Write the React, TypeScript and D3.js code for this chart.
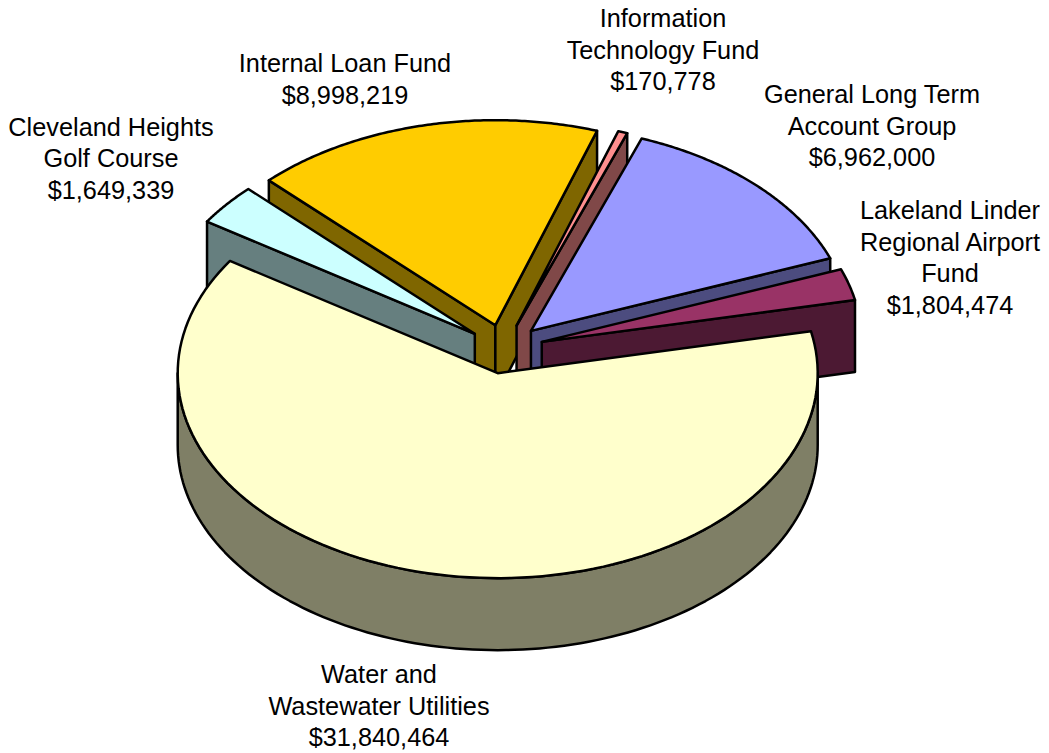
import React from 'react';
import * as d3 from 'd3';

const WIDTH = 1049;
const HEIGHT = 753;

const funds = [
  'Water and Wastewater Utilities',
  'Cleveland Heights Golf Course',
  'Internal Loan Fund',
  'Information Technology Fund',
  'General Long Term Account Group',
  'Lakeland Linder Regional Airport Fund',
];
const amounts = [31840464, 1649339, 8998219, 170778, 6962000, 1804474];
const topColors = ['#FFFFCC', '#CCFFFF', '#FFCC00', '#FF8F8F', '#9999FF', '#993366'];
const sideColors = ['#7F7F66', '#667F7F', '#7F6600', '#804848', '#4C4C7F', '#4C1933'];

// label text broken the way the chart breaks it
const labelLines = [
  ['Water and', 'Wastewater Utilities', '$31,840,464'],
  ['Cleveland Heights', 'Golf Course', '$1,649,339'],
  ['Internal Loan Fund', '$8,998,219'],
  ['Information', 'Technology Fund', '$170,778'],
  ['General Long Term', 'Account Group', '$6,962,000'],
  ['Lakeland Linder', 'Regional Airport', 'Fund', '$1,804,474'],
];
const labelX = [379, 111, 345, 663, 872, 950];
const labelY = [683, 135.5, 72, 27, 103, 219];

// back to front
const drawOrder = [2, 3, 4, 5, 1, 0];

// the original's perspective bends the slice edges a little, in degrees, per slice start
const startNudge = [-1.3, 0.8, 1, 1.6, 2.1, 2.4];
const endNudge = [0.8, 1, 1.6, 2.1, 2.4, -1.3];

const CX = 505;
const CY = 349;
const RX = 320;
const RY = 205;
const DEPTH = 72;
const EXPLODE = 0.12;
const START = (79.5 * Math.PI) / 180;
const DEG = Math.PI / 180;

const x = d3.scaleLinear().domain([-1, 1]).range([CX - RX, CX + RX]);
const y = d3.scaleLinear().domain([-1, 1]).range([CY + RY, CY - RY]);

const arcs = d3
  .pie<number>()
  .sort(null)
  .startAngle(START)
  .endAngle(START + 2 * Math.PI)(amounts);

type Pt = [number, number];
const line = d3.line<Pt>().x((d) => d[0]).y((d) => d[1]);

export default function App() {
  const slice = (i: number) => {
    const mid = (arcs[i].startAngle + arcs[i].endAngle) / 2;
    const a0 = arcs[i].startAngle + startNudge[i] * DEG;
    const a1 = arcs[i].endAngle + endNudge[i] * DEG;
    const ox = EXPLODE * Math.sin(mid);
    const oy = EXPLODE * Math.cos(mid);
    const pt = (r: number, a: number, drop = 0): Pt => [
      x(ox + r * Math.sin(a)),
      y(oy + r * Math.cos(a)) + drop,
    ];
    const rim = (from: number, to: number, drop = 0) =>
      d3.range(0, 121).map((k) => pt(1, from + ((to - from) * k) / 120, drop));

    const walls: string[] = [];
    // cut faces, only when they turn towards the viewer
    const cut = (a: number) =>
      line([pt(0, a), pt(1, a), pt(1, a, DEPTH), pt(0, a, DEPTH)]) + 'Z';
    if (Math.sin(a0) < 0) walls.push(cut(a0));
    if (Math.sin(a1) > 0) walls.push(cut(a1));

    // outer wall, front half of the ellipse only
    const from = Math.max(a0, Math.PI / 2);
    const to = Math.min(a1, (3 * Math.PI) / 2);
    if (to > from) {
      walls.push(line([...rim(from, to), ...rim(to, from, DEPTH)]) + 'Z');
    }
    const top = line([pt(0, a0), ...rim(a0, a1)]) + 'Z';
    return { walls, top };
  };

  return (
    <svg
      width={WIDTH}
      height={HEIGHT}
      style={{ position: 'absolute', left: 0, top: 0, background: '#fff' }}
    >
      {drawOrder.map((i) => {
        const { walls, top } = slice(i);
        return (
          <g key={funds[i]} stroke="#000" strokeWidth={2.5} strokeLinejoin="round">
            {walls.map((d, k) => (
              <path key={k} d={d} fill={sideColors[i]} />
            ))}
            <path d={top} fill={topColors[i]} />
          </g>
        );
      })}
      <g fontFamily="'Liberation Sans', Arial, sans-serif" fontSize={25.3} textAnchor="middle" fill="#000">
        {labelLines.map((lines, i) => (
          <text key={funds[i]}>
            {lines.map((s, k) => (
              <tspan key={k} x={labelX[i]} y={labelY[i] + k * 31.6}>
                {s}
              </tspan>
            ))}
          </text>
        ))}
      </g>
    </svg>
  );
}
